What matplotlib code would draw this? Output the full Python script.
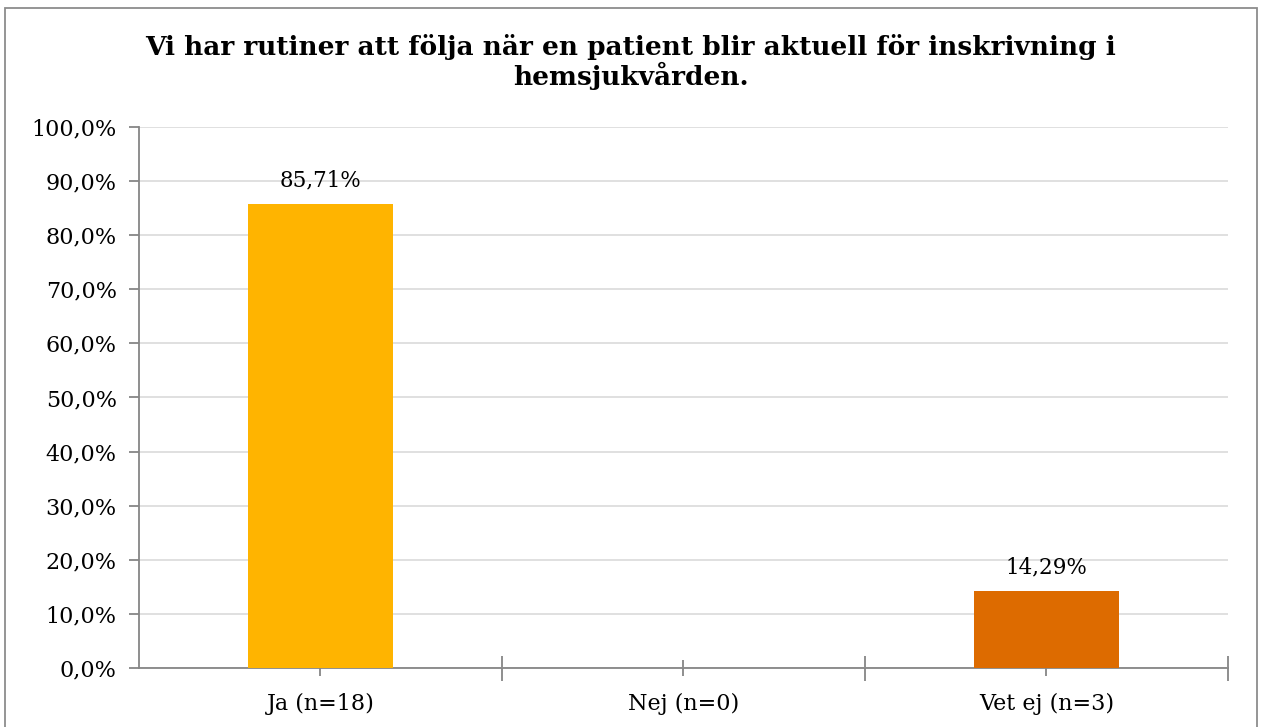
import matplotlib.pyplot as plt
from matplotlib.patches import Rectangle

plt.rcParams['font.family'] = ['DejaVu Serif']

# Data
categories = ['Ja (n=18)', 'Nej (n=0)', 'Vet ej (n=3)']
values = [85.71, 0.0, 14.29]
bar_colors = ['#FFB400', '#FFB400', '#DD6B00']
value_labels = ['85,71%', '', '14,29%']
yticks = [0, 10, 20, 30, 40, 50, 60, 70, 80, 90, 100]
ytick_labels = [f'{v},0%' for v in yticks]
title = 'Vi har rutiner att följa när en patient blir aktuell för inskrivning i\nhemsjukvården.'

fig = plt.figure(figsize=(12.61, 7.27), dpi=100)
ax = fig.add_axes([0.1102, 0.0812, 0.8636, 0.7441])

# Outer chart border
fig.patches.append(Rectangle((5 / 1261, -0.05), 1252 / 1261, 1 - 8 / 727 + 0.05,
                             transform=fig.transFigure, fill=False,
                             edgecolor='#8C8C8C', linewidth=1.3))

x = range(len(categories))
ax.bar(x, values, width=0.4, color=bar_colors, zorder=3)
for i, (v, lab) in enumerate(zip(values, value_labels)):
    if lab:
        ax.annotate(lab, (i, v), xytext=(0, 9), textcoords='offset points',
                    ha='center', va='bottom', fontsize=15.5)

ax.set_xlim(-0.5, 2.5)
ax.set_ylim(0, 100)
ax.set_yticks(yticks)
ax.set_yticklabels(ytick_labels, fontsize=16)
ax.set_xticks(list(x))
ax.set_xticklabels(categories, fontsize=16)
ax.set_xticks([0.5, 1.5, 2.5], minor=True)

ax.grid(axis='y', color='#DDDDDD', linewidth=1.3, zorder=0)
for side in ['top', 'right']:
    ax.spines[side].set_visible(False)
for side in ['left', 'bottom']:
    ax.spines[side].set_color('#868686')
    ax.spines[side].set_linewidth(1.3)

ax.tick_params(axis='y', length=7, color='#868686', width=1.3, pad=9)
ax.tick_params(axis='x', which='major', direction='inout', length=12,
               color='#868686', width=1.3, pad=12)
ax.tick_params(axis='x', which='minor', direction='inout', length=18,
               color='#868686', width=1.3)

fig.text(0.5, 1 - 62 / 727, title, ha='center', va='center',
         fontsize=19, fontweight='bold', linespacing=1.05)

fig.savefig('out.png', dpi=100)
